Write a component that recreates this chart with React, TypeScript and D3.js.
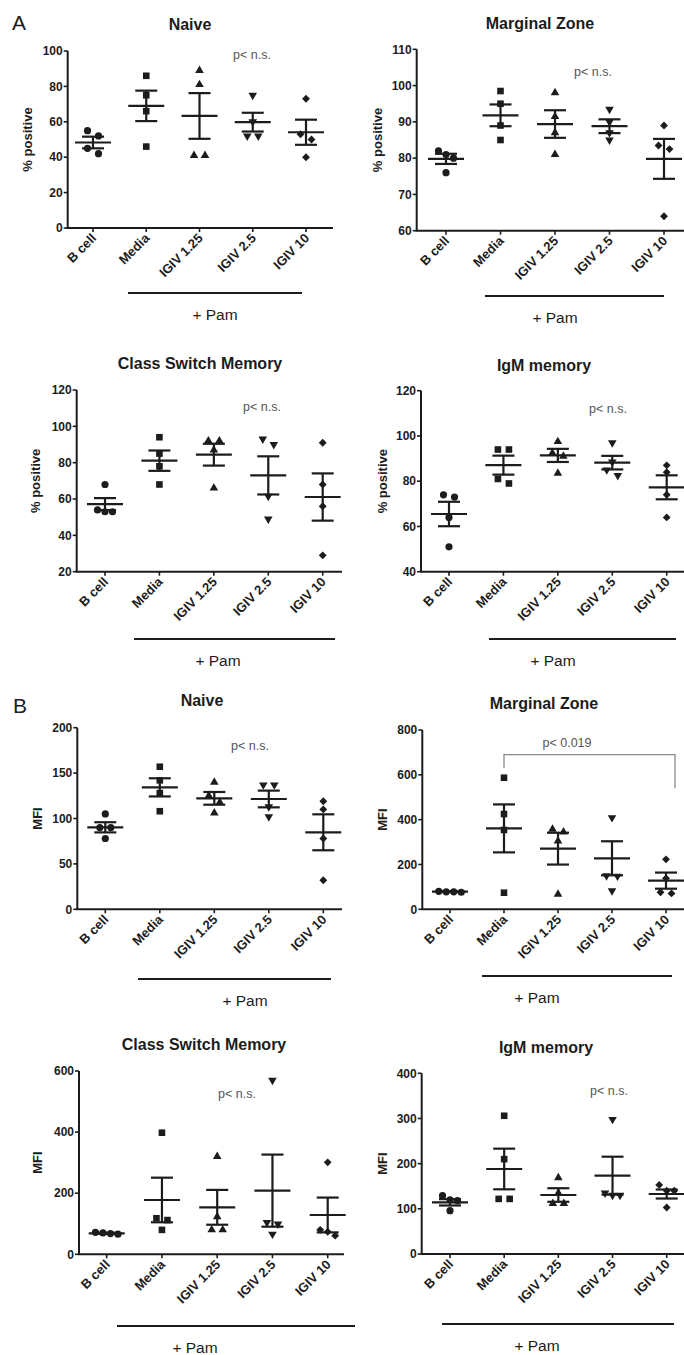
import React from 'react';
import * as d3 from 'd3';

// categories shared by every panel
const categories = ['B cell', 'Media', 'IGIV 1.25', 'IGIV 2.5', 'IGIV 10'];
const markerKinds = ['circle', 'square', 'up', 'down', 'diamond'];

// A: % positive
const naivePctPts = [[55, 52, 45, 42], [86, 75, 66, 46], [89, 81, 41, 41], [75, 60, 52, 52], [73, 53, 50, 40]];
const naivePctMean = [48.3, 69, 63.3, 59.8, 54.1];
const naivePctSem = [3.3, 8.6, 12.9, 5.3, 7.1];
const naivePctTicks = [0, 20, 40, 60, 80, 100];

const mzPctPts = [[81, 82, 80, 76], [98.5, 95, 89, 85], [98, 91.5, 87, 81], [93.5, 90, 87, 85], [89, 83.5, 82.5, 64]];
const mzPctMean = [79.8, 91.8, 89.4, 88.8, 79.8];
const mzPctSem = [1.4, 3.0, 3.8, 1.9, 5.5];
const mzPctTicks = [60, 70, 80, 90, 100, 110];

const csmPctPts = [[68, 54, 53, 53], [94, 85, 78, 68], [92, 92, 87, 66], [90, 93, 61.5, 49], [91, 68, 56, 29]];
const csmPctMean = [57.2, 81.1, 84.4, 73, 61.1];
const csmPctSem = [3.3, 5.6, 6.0, 10.5, 13];
const csmPctTicks = [20, 40, 60, 80, 100, 120];

const igmPctPts = [[73, 74, 64, 51], [94, 94, 81, 79], [97.5, 92.5, 91, 83.5], [97, 88.5, 85, 82.5], [84, 87, 74, 64]];
const igmPctMean = [65.5, 87.1, 91.4, 88.2, 77.3];
const igmPctSem = [5.4, 4.2, 2.9, 3.0, 5.3];
const igmPctTicks = [40, 60, 80, 100, 120];

// B: MFI
const naiveMfiPts = [[105, 90, 90, 78], [157, 142, 128, 108], [140, 125, 118, 106], [137, 137, 113, 102], [110, 119, 78, 32]];
const naiveMfiMean = [90.3, 134.3, 122.2, 121.5, 84.8];
const naiveMfiSem = [5.6, 10, 7, 9.2, 19.8];
const naiveMfiTicks = [0, 50, 100, 150, 200];

const mzMfiPts = [[80, 78, 76, 78], [587, 425, 354, 74], [345, 357, 305, 67], [409, 150, 148, 83], [223, 138, 71, 76]];
const mzMfiMean = [78.8, 361, 270.6, 227.5, 127.9];
const mzMfiSem = [1.5, 107, 71, 76, 36];
const mzMfiTicks = [0, 200, 400, 600, 800];
const mzBracket = [690, 630, 540]; // top, left leg end, right leg end

const csmMfiPts = [[72, 68, 66, 70], [398, 118, 112, 80], [320, 123, 80, 80], [570, 104, 99, 66], [301, 80, 61, 74]];
const csmMfiMean = [68.7, 177.8, 153.8, 208.4, 128.7];
const csmMfiSem = [2, 73, 57, 118, 57];
const csmMfiTicks = [0, 200, 400, 600];

const igmMfiPts = [[129, 120, 118, 96], [306, 210, 122, 122], [169, 135, 112, 112], [298, 135, 130, 130], [140, 140, 153, 103]];
const igmMfiMean = [114.4, 188.2, 130.6, 173.4, 132.8];
const igmMfiSem = [7, 45, 15, 42, 10];
const igmMfiTicks = [0, 100, 200, 300, 400];

const panels = [
  { title: 'Naive', yLabel: '% positive', pts: naivePctPts, mean: naivePctMean, sem: naivePctSem, ticks: naivePctTicks,
    axisX: 67.7, yTop: 51, yBot: 228, c0: 93, c4: 306, xEnd: 333, tx: 190, ty: 30, px: 252, py: 59,
    barX0: 128, barX1: 302, barY: 293, pamX: 215, labX: 27 },
  { title: 'Marginal Zone', yLabel: '% positive', pts: mzPctPts, mean: mzPctMean, sem: mzPctSem, ticks: mzPctTicks,
    axisX: 416.7, yTop: 49.3, yBot: 230.7, c0: 446, c4: 664, xEnd: 684, tx: 540, ty: 29, px: 593, py: 76,
    barX0: 485, barX1: 664, barY: 296, pamX: 555, labX: 377 },
  { title: 'Class Switch Memory', yLabel: '% positive', pts: csmPctPts, mean: csmPctMean, sem: csmPctSem, ticks: csmPctTicks,
    axisX: 76.7, yTop: 390, yBot: 571.7, c0: 105, c4: 322.7, xEnd: 342, tx: 200, ty: 369, px: 262, py: 411,
    barX0: 134, barX1: 335, barY: 639, pamX: 218, labX: 35 },
  { title: 'IgM memory', yLabel: '% positive', pts: igmPctPts, mean: igmPctMean, sem: igmPctSem, ticks: igmPctTicks,
    axisX: 421, yTop: 390.7, yBot: 571.7, c0: 449, c4: 666.7, xEnd: 684, tx: 544, ty: 371, px: 608, py: 413,
    barX0: 489, barX1: 676, barY: 639, pamX: 553, labX: 382 },
  { title: 'Naive', yLabel: 'MFI', pts: naiveMfiPts, mean: naiveMfiMean, sem: naiveMfiSem, ticks: naiveMfiTicks,
    axisX: 77.3, yTop: 727.7, yBot: 909.3, c0: 105.3, c4: 323.3, xEnd: 342, tx: 202, ty: 706, px: 250, py: 750,
    barX0: 138, barX1: 331, barY: 979, pamX: 245, labX: 37 },
  { title: 'Marginal Zone', yLabel: 'MFI', pts: mzMfiPts, mean: mzMfiMean, sem: mzMfiSem, ticks: mzMfiTicks,
    axisX: 422.3, yTop: 730, yBot: 909.3, c0: 450, c4: 666, xEnd: 684, tx: 544, ty: 709, px: 567, py: 747,
    barX0: 482, barX1: 672, barY: 976, pamX: 537, labX: 382, bracket: mzBracket, bracketX1: 675 },
  { title: 'Class Switch Memory', yLabel: 'MFI', pts: csmMfiPts, mean: csmMfiMean, sem: csmMfiSem, ticks: csmMfiTicks,
    axisX: 79, yTop: 1071, yBot: 1254.3, c0: 106.7, c4: 327.7, xEnd: 344, tx: 204, ty: 1050, px: 237, py: 1098,
    barX0: 117, barX1: 355, barY: 1326, pamX: 195, labX: 37 },
  { title: 'IgM memory', yLabel: 'MFI', pts: igmMfiPts, mean: igmMfiMean, sem: igmMfiSem, ticks: igmMfiTicks,
    axisX: 421.7, yTop: 1073.3, yBot: 1254, c0: 450, c4: 666.7, xEnd: 684, tx: 546, ty: 1053, px: 609, py: 1095,
    barX0: 442, barX1: 674, barY: 1324, pamX: 537, labX: 382 },
];

const ink = '#1c1c1c';
const font = 'Liberation Sans, Arial, sans-serif';

// spread points that sit on top of each other, like a column scatter
function spread(vals: number[], y: (v: number) => number) {
  const order = vals.map((_, i) => i).sort((a, b) => y(vals[a]) - y(vals[b]));
  const offs = vals.map(() => 0);
  let group: number[] = [];
  const flush = () => {
    const n = group.length;
    const gap = n === 2 ? 11 : 7.5;
    group.forEach((k, j) => { offs[k] = (j - (n - 1) / 2) * gap; });
    group = [];
  };
  order.forEach(i => {
    if (group.length && Math.abs(y(vals[i]) - y(vals[group[group.length - 1]])) > 6.5) flush();
    group.push(i);
  });
  flush();
  return offs;
}

function Marker({ kind, x, y }: { kind: string; x: number; y: number }) {
  if (kind === 'circle') return <circle cx={x} cy={y} r={3.6} fill={ink} />;
  if (kind === 'square') return <rect x={x - 3.3} y={y - 3.3} width={6.6} height={6.6} fill={ink} />;
  if (kind === 'diamond') {
    return <path d={d3.symbol(d3.symbolSquare, 31)()} transform={`translate(${x},${y}) rotate(45)`} fill={ink} />;
  }
  const rot = kind === 'down' ? 180 : 0;
  return <path d={d3.symbol(d3.symbolTriangle, 32)()} transform={`translate(${x},${y}) rotate(${rot})`} fill={ink} />;
}

function Panel({ cfg }: { cfg: any }) {
  const ticks: number[] = cfg.ticks;
  const y = d3.scaleLinear().domain([ticks[0], ticks[ticks.length - 1]]).range([cfg.yBot, cfg.yTop]);
  const x = d3.scalePoint<string>().domain(categories).range([cfg.c0, cfg.c4]);
  const midY = (cfg.yTop + cfg.yBot) / 2;

  return (
    <g>
      <text x={cfg.tx} y={cfg.ty} textAnchor="middle" fontSize={16} fontWeight="bold" fill={ink}>{cfg.title}</text>
      <text transform={`translate(${cfg.labX},${midY}) rotate(-90)`} textAnchor="middle" dy="0.35em"
        fontSize={13} fontWeight="bold" fill={ink}>{cfg.yLabel}</text>

      {/* axes */}
      <line x1={cfg.axisX} x2={cfg.axisX} y1={cfg.yTop} y2={cfg.yBot} stroke={ink} strokeWidth={2} />
      <line x1={cfg.axisX - 1} x2={cfg.xEnd} y1={cfg.yBot} y2={cfg.yBot} stroke={ink} strokeWidth={2} />
      {ticks.map(t => (
        <g key={t}>
          <line x1={cfg.axisX - 4} x2={cfg.axisX} y1={y(t)} y2={y(t)} stroke={ink} strokeWidth={1.6} />
          <text x={cfg.axisX - 5} y={y(t)} dy="0.35em" textAnchor="end" fontSize={12} fontWeight="bold" fill={ink}>{t}</text>
        </g>
      ))}
      {categories.map(c => (
        <g key={c}>
          <line x1={x(c)} x2={x(c)} y1={cfg.yBot} y2={cfg.yBot + 4} stroke={ink} strokeWidth={1.6} />
          <text transform={`translate(${(x(c) as number) + 4},${cfg.yBot + 11}) rotate(-45)`} textAnchor="end"
            fontSize={13} fontWeight="bold" fill={ink}>{c}</text>
        </g>
      ))}

      {/* data */}
      {categories.map((c, i) => {
        const cx = x(c) as number;
        const vals: number[] = cfg.pts[i];
        const offs = spread(vals, y);
        const m = cfg.mean[i];
        const s = cfg.sem[i];
        return (
          <g key={c}>
            {vals.map((v, j) => <Marker key={j} kind={markerKinds[i]} x={cx + offs[j]} y={y(v)} />)}
            <line x1={cx - 18} x2={cx + 18} y1={y(m)} y2={y(m)} stroke={ink} strokeWidth={2.2} />
            <line x1={cx} x2={cx} y1={y(m + s)} y2={y(m - s)} stroke={ink} strokeWidth={2.2} />
            <line x1={cx - 11} x2={cx + 11} y1={y(m + s)} y2={y(m + s)} stroke={ink} strokeWidth={2.2} />
            <line x1={cx - 11} x2={cx + 11} y1={y(m - s)} y2={y(m - s)} stroke={ink} strokeWidth={2.2} />
          </g>
        );
      })}

      {cfg.bracket ? (
        <g>
          <path d={`M${x('Media')},${y(cfg.bracket[1])}V${y(cfg.bracket[0])}H${cfg.bracketX1}V${y(cfg.bracket[2])}`}
            fill="none" stroke="#8a8a8a" strokeWidth={1.3} />
          <text x={cfg.px} y={cfg.py} textAnchor="middle" fontSize={12.5} fill="#555">p&lt; 0.019</text>
        </g>
      ) : (
        <text x={cfg.px} y={cfg.py} textAnchor="middle" fontSize={12.5} fill="#555">p&lt; n.s.</text>
      )}

      <line x1={cfg.barX0} x2={cfg.barX1} y1={cfg.barY} y2={cfg.barY} stroke={ink} strokeWidth={2} />
      <text x={cfg.pamX} y={cfg.barY + 27} textAnchor="middle" fontSize={15.5} fill={ink}>+ Pam</text>
    </g>
  );
}

export default function App() {
  return (
    <svg width={684} height={1355} style={{ position: 'absolute', left: 0, top: 0, background: '#fff' }}
      fontFamily={font}>
      <rect width={684} height={1355} fill="#fff" />
      <text x={12} y={30} fontSize={21} fill={ink}>A</text>
      <text x={13} y={713} fontSize={21} fill={ink}>B</text>
      {panels.map((p, i) => <Panel key={i} cfg={p} />)}
    </svg>
  );
}
